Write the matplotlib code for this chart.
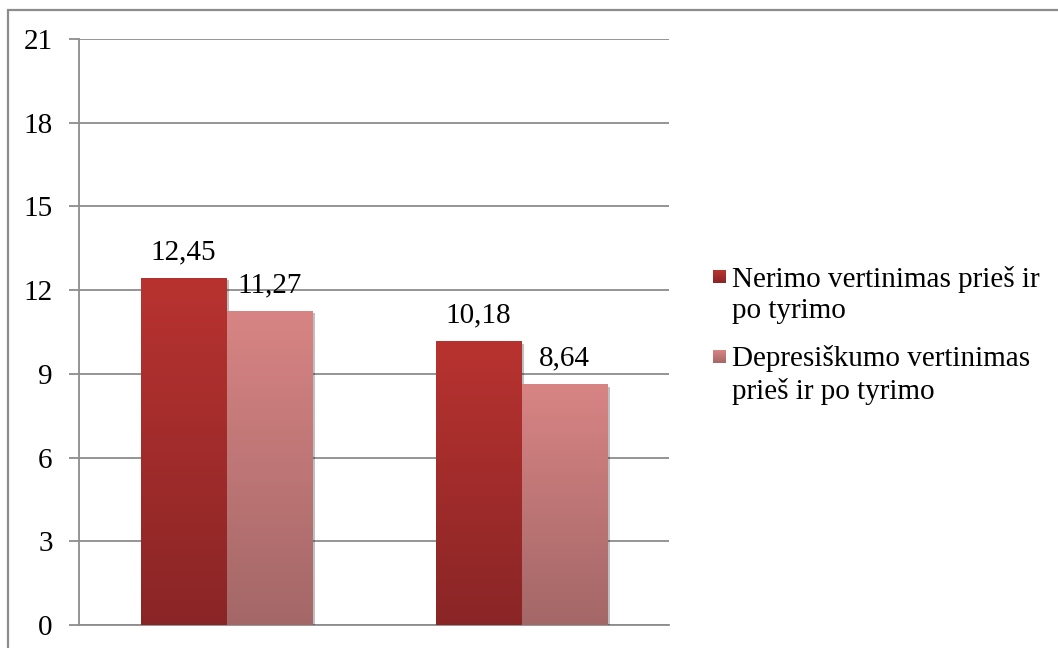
import matplotlib
matplotlib.use('Agg')
import matplotlib.pyplot as plt
import matplotlib.patheffects as pe
from matplotlib.patches import Rectangle
from matplotlib.colors import LinearSegmentedColormap
import numpy as np

series_names = ["Nerimo vertinimas prieš ir\npo tyrimo",
                "Depresiškumo vertinimas\nprieš ir po tyrimo"]
group_values = [
    [12.45, 10.18],   # Nerimo
    [11.27, 8.64],    # Depresiškumo
]
value_labels = [["12,45", "10,18"], ["11,27", "8,64"]]
y_ticks = [0, 3, 6, 9, 12, 15, 18, 21]

# top -> bottom gradient colours per series
grad_colors = [("#b83330", "#8a2526"), ("#d88484", "#a46767")]

plt.rcParams['font.family'] = ['Liberation Serif', 'DejaVu Serif']

W, H = 1058, 648
fig = plt.figure(figsize=(W / 100, H / 100), dpi=100)
ax = fig.add_axes([79 / W, 1 - 625 / H, (669 - 79) / W, (625 - 39) / H])

# outer frame
fig.patches.append(Rectangle((8 / W, -0.05), 1.1, 1 - 9.5 / H + 0.05,
                             transform=fig.transFigure, fill=False,
                             edgecolor="#8c8c8c", linewidth=1.6))

x = np.arange(len(group_values[0]))
width = 0.29
grey = "#8c8c8c"

for i, vals in enumerate(group_values):
    offs = (i - 0.5) * width
    cmap = LinearSegmentedColormap.from_list("g%d" % i, list(grad_colors[i]))
    bars = ax.bar(x + offs, vals, width, color=grad_colors[i][0], zorder=3,
                  path_effects=[pe.SimplePatchShadow(offset=(2, -2), shadow_rgbFace="k", alpha=0.25),
                                pe.Normal()])
    for b, lab in zip(bars, value_labels[i]):
        bx, bw, bh = b.get_x(), b.get_width(), b.get_height()
        grad = np.linspace(0, 1, 256).reshape(-1, 1)
        im = ax.imshow(grad, cmap=cmap, aspect='auto', extent=(bx, bx + bw, 0, bh),
                       zorder=4, origin='upper')
        im.set_clip_path(b)
        ax.text(bx + bw / 2, bh + 0.45, lab, ha='center', va='bottom',
                fontsize=21, zorder=5)

ax.set_xlim(-0.5, 1.5)
ax.set_ylim(0, 21)
ax.set_yticks(y_ticks)
ax.set_yticklabels([str(t) for t in y_ticks], fontsize=21)
ax.set_xticks([])
ax.yaxis.grid(True, color=grey, linewidth=1.3, zorder=0)
ax.set_axisbelow(True)
ax.tick_params(axis='y', length=7, width=1.3, color=grey, pad=12)
for side in ['top', 'right']:
    ax.spines[side].set_visible(False)
for side in ['left', 'bottom']:
    ax.spines[side].set_color(grey)
    ax.spines[side].set_linewidth(1.3)

# legend with small gradient squares
for i, name in enumerate(series_names):
    ly = 1 - (295 + i * 80) / H
    cmap = LinearSegmentedColormap.from_list("l%d" % i, list(grad_colors[i]))
    lax = fig.add_axes([713 / W, 1 - 283 / H - i * 80 / H, 13 / W, 13 / H])
    lax.imshow(np.linspace(0, 1, 64).reshape(-1, 1), cmap=cmap, aspect='auto')
    lax.axis('off')
    fig.text(732 / W, ly, name, ha='left', va='center', fontsize=21,
             linespacing=1.25)

plt.savefig("out.png", dpi=100)
plt.close()
